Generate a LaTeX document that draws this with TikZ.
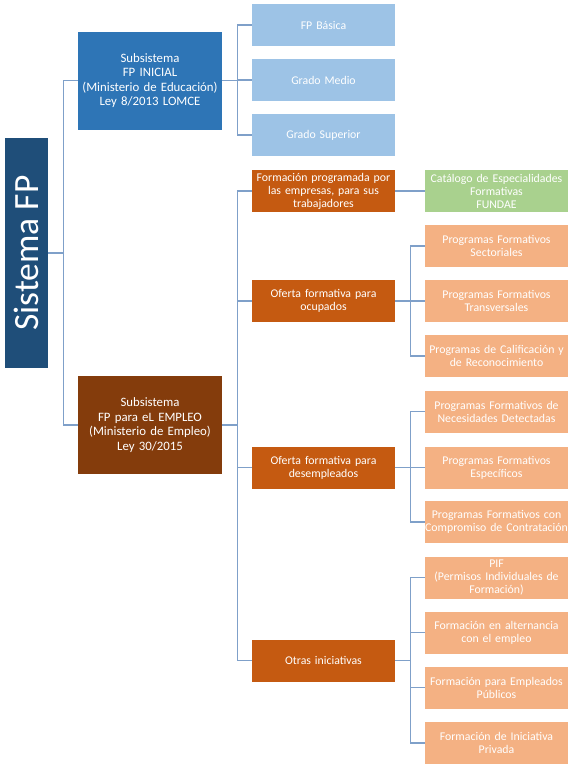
\documentclass[tikz,border=0pt]{standalone}
\usepackage{fontspec}
\setmainfont{Carlito}
\definecolor{rootblue}{HTML}{1F4E79}
\definecolor{midblue}{HTML}{2E75B6}
\definecolor{paleblue}{HTML}{9DC3E6}
\definecolor{darkbrown}{HTML}{843C0C}
\definecolor{rust}{HTML}{C55A11}
\definecolor{paleorange}{HTML}{F4B183}
\definecolor{palegreen}{HTML}{A9D18E}
\definecolor{linkblue}{HTML}{7FA0C9}
\begin{document}
\begin{tikzpicture}[
    x=1pt, y=-1pt,
    box/.style={rectangle, inner sep=0pt, minimum width=143pt, minimum height=42pt, text width=143pt, align=center, text=white, font=\fontsize{11.8}{13}\selectfont},
    sub/.style={box, minimum width=144pt, text width=144pt, minimum height=98pt, font=\fontsize{12.8}{14.5}\selectfont},
    leaf/.style={box, fill=paleorange},
    link/.style={draw=linkblue, line width=1.2pt}
]
\useasboundingbox (0,0) rectangle (574,769);

% Root
\node[rectangle, fill=rootblue, minimum width=43pt, minimum height=230pt, inner sep=0pt] (root) at (26.5,253) {};
\node[rotate=90, text=white, font=\fontsize{35.5}{40}\selectfont] at (root.center) {Sistema FP};

% Subsystems
\node[sub, fill=midblue] (ini) at (150,80.5) {Subsistema\\FP INICIAL\\(Ministerio de Educación)\\Ley 8/2013 LOMCE};
\node[sub, fill=darkbrown] (emp) at (150,425) {Subsistema\\FP para eL EMPLEO\\(Ministerio de Empleo)\\Ley 30/2015};

% FP inicial
\node[box, fill=paleblue] (basica) at (323.5,25) {FP Básica};
\node[box, fill=paleblue] (medio) at (323.5,80) {Grado Medio};
\node[box, fill=paleblue] (superior) at (323.5,135) {Grado Superior};

% FP para el empleo
\node[box, fill=rust] (prog) at (323.5,191) {Formación programada por\\las empresas, para sus\\trabajadores};
\node[box, fill=rust] (ocup) at (323.5,301) {Oferta formativa para\\ocupados};
\node[box, fill=rust] (desemp) at (323.5,467.5) {Oferta formativa para\\desempleados};
\node[box, fill=rust] (otras) at (323.5,660.5) {Otras iniciativas};

% Third level
\node[box, fill=palegreen] (catalogo) at (496.5,191) {Catálogo de Especialidades\\Formativas\\FUNDAE};
\node[leaf] (sect) at (496.5,246) {Programas Formativos\\Sectoriales};
\node[leaf] (transv) at (496.5,301) {Programas Formativos\\Transversales};
\node[leaf] (calif) at (496.5,356) {Programas de Calificación y\\de Reconocimiento};
\node[leaf] (neces) at (496.5,411.5) {Programas Formativos de\\Necesidades Detectadas};
\node[leaf] (especif) at (496.5,467.5) {Programas Formativos\\Específicos};
\node[leaf] (compr) at (496.5,522) {Programas Formativos con\\\makebox[\linewidth]{Compromiso de Contratación}};
\node[leaf] (pif) at (496.5,577.5) {PIF\\(Permisos Individuales de\\Formación)};
\node[leaf] (altern) at (496.5,632.5) {Formación en alternancia\\con el empleo};
\node[leaf] (publ) at (496.5,687.5) {Formación para Empleados\\Públicos};
\node[leaf] (priv) at (496.5,743) {Formación de Iniciativa\\Privada};

% Connectors
\draw[link] (root.east) -- ++(15,0) |- (ini.west);
\draw[link] (root.east) -- ++(15,0) |- (emp.west);

\draw[link] (ini.east) -- ++(15,0) |- (basica.west);
\draw[link] (ini.east) -- ++(15,0) |- (medio.west);
\draw[link] (ini.east) -- ++(15,0) |- (superior.west);

\draw[link] (emp.east) -- ++(15,0) |- (prog.west);
\draw[link] (emp.east) -- ++(15,0) |- (ocup.west);
\draw[link] (emp.east) -- ++(15,0) |- (desemp.west);
\draw[link] (emp.east) -- ++(15,0) |- (otras.west);

\draw[link] (prog.east) -- (catalogo.west);

\draw[link] (ocup.east) -- ++(15,0) |- (sect.west);
\draw[link] (ocup.east) -- ++(15,0) |- (transv.west);
\draw[link] (ocup.east) -- ++(15,0) |- (calif.west);

\draw[link] (desemp.east) -- ++(15,0) |- (neces.west);
\draw[link] (desemp.east) -- ++(15,0) |- (especif.west);
\draw[link] (desemp.east) -- ++(15,0) |- (compr.west);

\draw[link] (otras.east) -- ++(15,0) |- (pif.west);
\draw[link] (otras.east) -- ++(15,0) |- (altern.west);
\draw[link] (otras.east) -- ++(15,0) |- (publ.west);
\draw[link] (otras.east) -- ++(15,0) |- (priv.west);

\end{tikzpicture}
\end{document}
